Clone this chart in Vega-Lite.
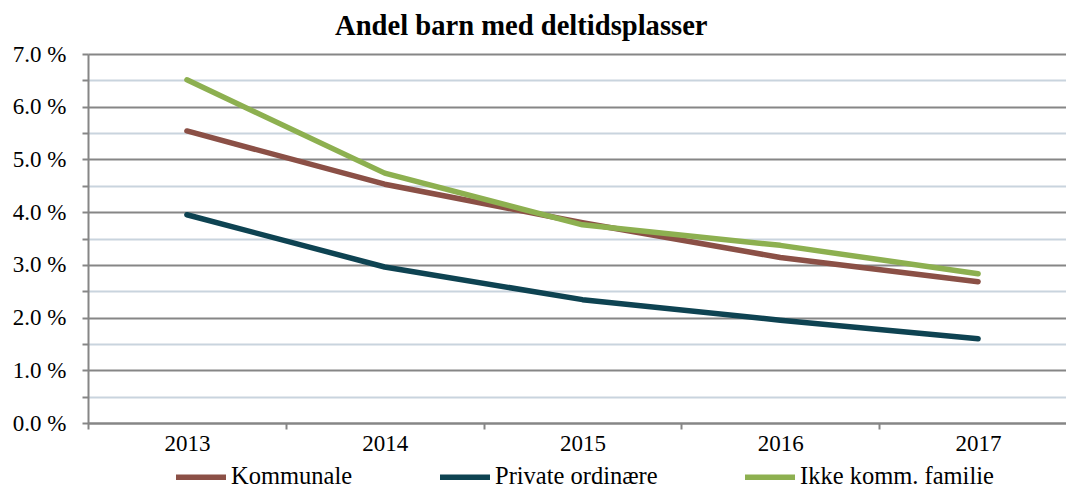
{
  "$schema": "https://vega.github.io/schema/vega-lite/v6.json",
  "autosize": {"type": "none"},
  "padding": {"left": 88, "top": 54, "right": 0, "bottom": 67},
  "width": 989,
  "height": 369,
  "background": "white",
  "title": {
    "text": "Andel barn med deltidsplasser",
    "font": "Liberation Serif",
    "fontSize": 28.6,
    "fontWeight": "bold",
    "color": "black",
    "anchor": "start",
    "frame": "group",
    "dx": 247,
    "offset": 2
  },
  "data": {
    "values": [
      {"year": "2013", "serie": "Kommunale", "value": 5.54},
      {"year": "2014", "serie": "Kommunale", "value": 4.53},
      {"year": "2015", "serie": "Kommunale", "value": 3.8},
      {"year": "2016", "serie": "Kommunale", "value": 3.14},
      {"year": "2017", "serie": "Kommunale", "value": 2.68},
      {"year": "2013", "serie": "Private ordinære", "value": 3.95},
      {"year": "2014", "serie": "Private ordinære", "value": 2.96},
      {"year": "2015", "serie": "Private ordinære", "value": 2.34},
      {"year": "2016", "serie": "Private ordinære", "value": 1.95},
      {"year": "2017", "serie": "Private ordinære", "value": 1.6},
      {"year": "2013", "serie": "Ikke komm. familie", "value": 6.51},
      {"year": "2014", "serie": "Ikke komm. familie", "value": 4.74},
      {"year": "2015", "serie": "Ikke komm. familie", "value": 3.76},
      {"year": "2016", "serie": "Ikke komm. familie", "value": 3.37},
      {"year": "2017", "serie": "Ikke komm. familie", "value": 2.83}
    ]
  },
  "mark": {"type": "line", "strokeWidth": 5.5, "strokeCap": "round", "strokeJoin": "round"},
  "encoding": {
    "x": {
      "field": "year",
      "type": "ordinal",
      "scale": {"type": "band", "paddingInner": 0, "paddingOuter": 0},
      "axis": {
        "title": null,
        "labelAngle": 0,
        "tickBand": "extent",
        "grid": false,
        "domainColor": "#868686",
        "domainWidth": 2,
        "tickColor": "#868686",
        "tickWidth": 2,
        "tickSize": 6,
        "labelPadding": 3,
        "labelFont": "Liberation Serif",
        "labelFontSize": 23,
        "labelColor": "black"
      }
    },
    "y": {
      "field": "value",
      "type": "quantitative",
      "scale": {"domain": [0, 7], "nice": false},
      "axis": {
        "title": null,
        "values": [0, 0.5, 1, 1.5, 2, 2.5, 3, 3.5, 4, 4.5, 5, 5.5, 6, 6.5, 7],
        "labelExpr": "datum.value % 1 === 0 ? format(datum.value, '.1f') + ' %' : ''",
        "grid": true,
        "gridColor": {"condition": {"test": "datum.value % 1 === 0", "value": "#868686"}, "value": "#C9D4DE"},
        "gridWidth": 2,
        "domainColor": "#868686",
        "domainWidth": 2,
        "tickColor": "#868686",
        "tickWidth": 2,
        "tickSize": 6,
        "labelPadding": 16,
        "labelFont": "Liberation Serif",
        "labelFontSize": 23,
        "labelColor": "black"
      }
    },
    "color": {
      "field": "serie",
      "type": "nominal",
      "scale": {
        "domain": ["Kommunale", "Private ordinære", "Ikke komm. familie"],
        "range": ["#8B5046", "#0E4352", "#8DB050"]
      },
      "legend": {
        "title": null,
        "orient": "none",
        "direction": "horizontal",
        "legendX": 85,
        "legendY": 395,
        "padding": 0,
        "symbolType": "stroke",
        "symbolSize": 2500,
        "symbolStrokeWidth": 5.5,
        "labelFont": "Liberation Serif",
        "labelFontSize": 24.5,
        "labelColor": "black",
        "labelLimit": 400,
        "labelOffset": 2,
        "columnPadding": 76
      }
    }
  }
}
